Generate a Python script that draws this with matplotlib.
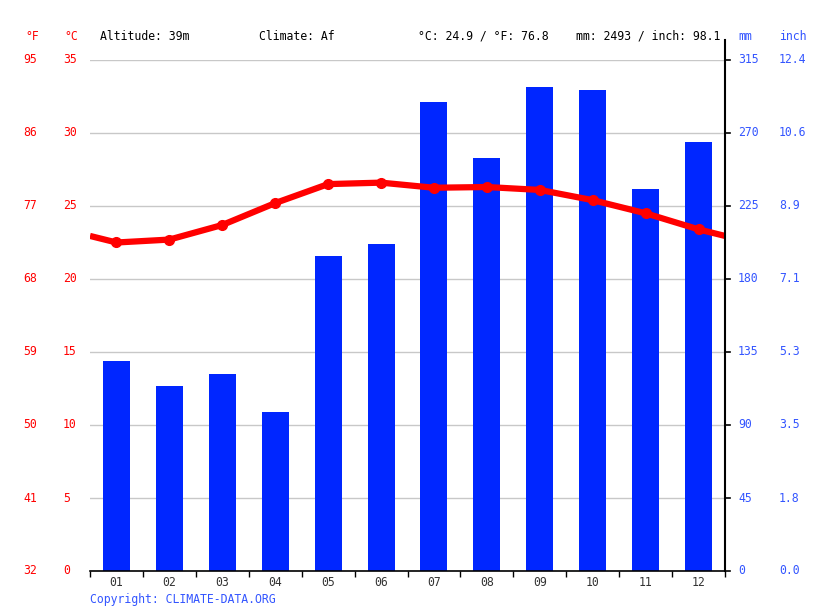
import matplotlib
matplotlib.use("Agg")
import matplotlib.pyplot as plt
from matplotlib.transforms import blended_transform_factory
from matplotlib.lines import Line2D

months = ["01", "02", "03", "04", "05", "06", "07", "08", "09", "10", "11", "12"]
temp_c = [22.5, 22.7, 23.7, 25.2, 26.5, 26.6, 26.25, 26.3, 26.1, 25.4, 24.5, 23.4]
precip_mm = [129.5, 114, 121.5, 98, 194, 201.5, 289, 254.5, 298.5, 296.5, 235.5, 264.5]

c_ticks = [0, 5, 10, 15, 20, 25, 30, 35]
f_labels = ["32", "41", "50", "59", "68", "77", "86", "95"]
mm_ticks = [0, 45, 90, 135, 180, 225, 270, 315]
inch_labels = ["0.0", "1.8", "3.5", "5.3", "7.1", "8.9", "10.6", "12.4"]

header_left = "Altitude: 39m"
header_climate = "Climate: Af"
header_temp = "°C: 24.9 / °F: 76.8"
header_precip = "mm: 2493 / inch: 98.1"
copyright_text = "Copyright: CLIMATE-DATA.ORG"

W, H = 815, 611
FONT = "DejaVu Sans Mono"
FS = 8.3
RED = "#ff0000"
BLUE = "#0026ff"
LBLUE = "#3355ff"

plt.rcParams["font.family"] = [FONT]
fig = plt.figure(figsize=(W / 100, H / 100), dpi=100)
L, R, T, B = 90, 725, 60, 571
ax2 = fig.add_axes([L / W, (H - B) / H, (R - L) / W, (B - T) / H])  # precipitation
ax = ax2.twinx()  # temperature

x = list(range(12))
ax2.bar(x, precip_mm, width=0.51, color=BLUE, zorder=2)
ax2.set_ylim(0, 315)
ax2.set_xlim(-0.5, 11.5)
ax2.set_yticks(mm_ticks)
ax2.yaxis.grid(True, color="#c8c8c8", linewidth=1)
ax2.set_axisbelow(True)
ax2.tick_params(axis="y", which="both", left=False, right=False, labelleft=False, labelright=False)
ax2.set_xticks([i - 0.5 for i in range(13)])
ax2.tick_params(axis="x", direction="out", length=4, width=1, color="black", labelbottom=False)
for s in ["top", "left", "right"]:
    ax2.spines[s].set_visible(False)
ax2.spines["bottom"].set_linewidth(1.2)

# temperature line wrapping across year ends
edge = (temp_c[0] + temp_c[-1]) / 2
lx = [-0.5] + x + [11.5]
ly = [edge] + temp_c + [edge]
ax.plot(lx, ly, color=RED, linewidth=4.5, solid_capstyle="butt", zorder=3)
ax.plot(x, temp_c, linestyle="none", marker="o", markersize=7, color=RED, zorder=4)
ax.set_ylim(0, 35)
ax.set_xlim(-0.5, 11.5)
ax.set_yticks(mm_ticks and [])
for s in ["top", "left", "right", "bottom"]:
    ax.spines[s].set_visible(False)
ax.tick_params(axis="y", right=False, labelright=False)

# right ticks and spine
tr_mm = blended_transform_factory(fig.transFigure, ax2.transData)
for v in mm_ticks:
    fig.add_artist(Line2D([R / W, (R + 5) / W], [v, v], transform=tr_mm, color="black", linewidth=1.2))
fig.add_artist(Line2D([R / W, R / W], [(H - B) / H, (H - 40) / H], transform=fig.transFigure,
                      color="black", linewidth=1.5))

# labels
tr_c = blended_transform_factory(fig.transFigure, ax.transData)
for v, f in zip(c_ticks, f_labels):
    fig.text(63 / W, v, str(v), transform=tr_c, ha="left", va="center", color=RED, fontsize=FS)
    fig.text(23 / W, v, f, transform=tr_c, ha="left", va="center", color=RED, fontsize=FS)
for v, i in zip(mm_ticks, inch_labels):
    fig.text(738 / W, v, str(v), transform=tr_mm, ha="left", va="center", color=LBLUE, fontsize=FS)
    fig.text(779 / W, v, i, transform=tr_mm, ha="left", va="center", color=LBLUE, fontsize=FS)

tr_x = blended_transform_factory(ax2.transData, fig.transFigure)
for i, m in enumerate(months):
    fig.text(i, 1 - 583 / H, m, transform=tr_x, ha="center", va="center", color="#333333", fontsize=FS)

hy = 1 - 36 / H
fig.text(25 / W, hy, "°F", ha="left", va="center", color=RED, fontsize=FS)
fig.text(64 / W, hy, "°C", ha="left", va="center", color=RED, fontsize=FS)
fig.text(100 / W, hy, header_left, ha="left", va="center", color="black", fontsize=FS)
fig.text(259 / W, hy, header_climate, ha="left", va="center", color="black", fontsize=FS)
fig.text(418 / W, hy, header_temp, ha="left", va="center", color="black", fontsize=FS)
fig.text(576 / W, hy, header_precip, ha="left", va="center", color="black", fontsize=FS)
fig.text(738 / W, hy, "mm", ha="left", va="center", color=LBLUE, fontsize=FS)
fig.text(779 / W, hy, "inch", ha="left", va="center", color=LBLUE, fontsize=FS)
fig.text(90 / W, 1 - 600 / H, copyright_text, ha="left", va="center", color=LBLUE, fontsize=FS)

fig.savefig("out.png", dpi=100)
